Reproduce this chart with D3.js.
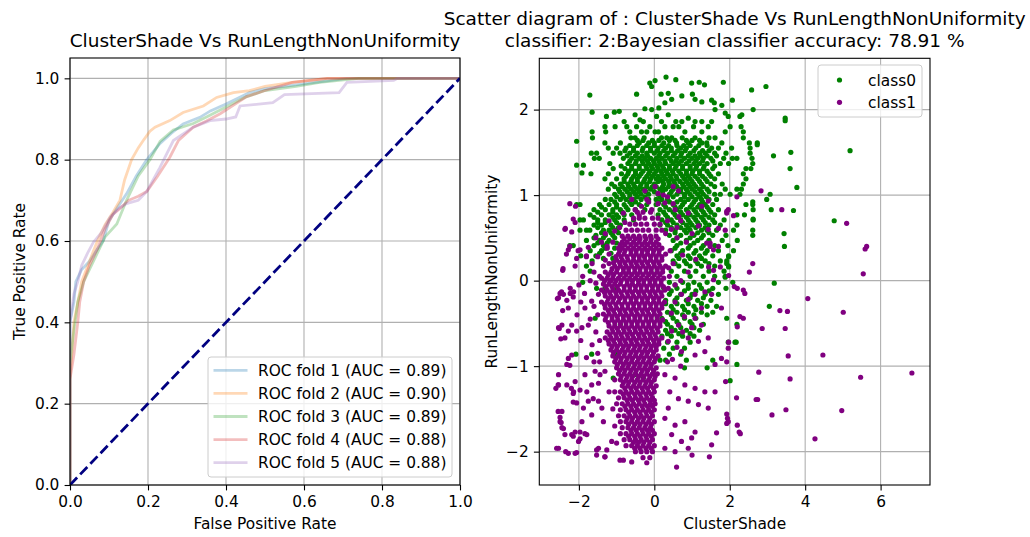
<!DOCTYPE html>
<html><head><meta charset="utf-8">
<script src="https://cdn.jsdelivr.net/npm/d3@7"></script>
<style>body{margin:0;background:#fff}svg{display:block;font-family:"DejaVu Sans",sans-serif}</style>
</head><body><svg id="c" width="1030" height="537"></svg>
<script>
// ---------------- data ----------------
const rocTitle = "ClusterShade Vs RunLengthNonUniformity";
const scatterTitle = ["Scatter diagram of : ClusterShade Vs RunLengthNonUniformity",
  "classifier: 2:Bayesian classifier accuracy: 78.91 %"];
const rocTicks = [0, 0.2, 0.4, 0.6, 0.8, 1.0];
const scatterXTicks = [-2, 0, 2, 4, 6];
const scatterYTicks = [-2, -1, 0, 1, 2];
const foldLabels = ["ROC fold 1 (AUC = 0.89)", "ROC fold 2 (AUC = 0.90)", "ROC fold 3 (AUC = 0.89)",
  "ROC fold 4 (AUC = 0.88)", "ROC fold 5 (AUC = 0.88)"];
const foldColors = ["#1f77b4", "#ff7f0e", "#2ca02c", "#d62728", "#9467bd"];
const classLabels = ["class0", "class1"];
const classColors = ["#008000", "#800080"];
const chanceLine = [[0, 0], [1, 1]];

const fold1 = [[0,0],[0,0.40],[0.01,0.45],[0.015,0.50],[0.03,0.53],[0.05,0.55],[0.07,0.58],[0.085,0.60],[0.10,0.65],[0.12,0.68],[0.145,0.716],[0.17,0.76],[0.197,0.80],[0.231,0.84],[0.26,0.865],[0.29,0.888],[0.333,0.904],[0.36,0.92],[0.40,0.937],[0.46,0.965],[0.50,0.975],[0.55,0.98],[0.63,0.99],[0.71,1.0],[1,1]];
const fold2 = [[0,0],[0,0.26],[0.005,0.33],[0.01,0.40],[0.02,0.45],[0.03,0.50],[0.05,0.55],[0.07,0.60],[0.09,0.64],[0.11,0.67],[0.128,0.70],[0.14,0.75],[0.158,0.80],[0.175,0.829],[0.19,0.85],[0.205,0.87],[0.218,0.88],[0.256,0.896],[0.29,0.916],[0.342,0.932],[0.376,0.953],[0.419,0.965],[0.46,0.97],[0.50,0.98],[0.57,0.99],[0.66,1.0],[1,1]];
const fold3 = [[0,0],[0,0.30],[0.01,0.38],[0.02,0.45],[0.035,0.50],[0.05,0.53],[0.07,0.57],[0.09,0.61],[0.12,0.642],[0.145,0.70],[0.175,0.76],[0.205,0.80],[0.231,0.845],[0.265,0.873],[0.316,0.889],[0.35,0.905],[0.385,0.922],[0.453,0.955],[0.50,0.97],[0.58,0.98],[0.64,0.99],[0.74,1.0],[1,1]];
const fold4 = [[0,0],[0,0.26],[0.01,0.32],[0.02,0.40],[0.025,0.45],[0.035,0.50],[0.05,0.54],[0.07,0.58],[0.09,0.63],[0.11,0.665],[0.128,0.68],[0.15,0.70],[0.175,0.71],[0.197,0.722],[0.225,0.76],[0.256,0.806],[0.278,0.847],[0.316,0.88],[0.35,0.895],[0.385,0.913],[0.453,0.955],[0.50,0.97],[0.57,0.99],[0.66,1.0],[1,1]];
const fold5 = [[0,0],[0,0.40],[0.01,0.47],[0.02,0.50],[0.03,0.54],[0.045,0.57],[0.06,0.597],[0.08,0.62],[0.103,0.659],[0.125,0.68],[0.145,0.692],[0.175,0.70],[0.197,0.722],[0.23,0.78],[0.265,0.847],[0.316,0.88],[0.359,0.896],[0.40,0.90],[0.425,0.905],[0.436,0.932],[0.52,0.94],[0.55,0.96],[0.69,0.965],[0.71,0.99],[0.83,0.995],[0.84,1.0],[1,1]];
const folds = [fold1, fold2, fold3, fold4, fold5];

// class0 (green): rows of [y, [x...]] plus scattered [x, y] points
const class0Rows = [
[1.86,[-0.80,-0.29,0.19,0.57,0.73,1.08,1.26,1.52]],
[1.80,[-1.31,-1.04,-0.73,-0.47,-0.12,0.28,0.50,0.65,1.04,1.43,2.01,2.30]],
[1.74,[-1.65,-1.29,-0.65,-0.34,-0.20,0.02,0.11,0.81,1.26,1.88,2.36]],
[1.67,[-1.64,-0.62,-0.51,-0.27,0.19,0.33,0.46,0.74,1.08,1.45,1.61,2.36]],
[1.64,[-0.45,-0.30,-0.05,0.12,0.40,0.55,0.85,1.0,1.20]],
[1.61,[-1.31,-0.90,-0.40,-0.15,0.0,0.25,0.59,0.90,1.26,1.39,1.79,2.52,2.73]],
[1.58,[-0.65,-0.45,-0.20,0.0,0.20,0.38,0.60,0.78,0.95,1.18,1.40]],
[1.55,[-1.22,-1.0,-0.75,-0.55,-0.30,-0.10,0.10,0.30,0.45,0.70,0.85,1.10,1.52,1.70,2.05,2.54]],
[1.52,[-0.78,-0.55,-0.32,-0.10,0.08,0.25,0.45,0.62,0.82,1.05,1.28,1.45]],
[1.49,[-1.67,-1.53,-1.09,-0.91,-0.65,-0.45,-0.20,0.0,0.15,0.35,0.55,0.72,0.95,1.20,1.35,1.60,1.90,2.54]],
[1.46,[-0.72,-0.50,-0.32,-0.18,0.12,0.30,0.50,0.70,0.90,1.08,1.22,1.40,1.65]],
[1.43,[-1.59,-1.46,-0.82,-0.60,-0.40,-0.25,-0.10,0.05,0.20,0.40,0.60,0.80,1.0,1.15,1.30,1.50,1.84,2.07,2.19,2.59]],
[1.40,[-0.65,-0.48,-0.32,-0.18,-0.02,0.12,0.28,0.45,0.58,0.72,0.92,1.10,1.28,1.55]],
[1.37,[-1.18,-0.70,-0.50,-0.30,-0.15,0.0,0.15,0.30,0.50,0.65,0.85,1.05,1.20,1.40,1.75,1.97,2.61]],
[1.34,[-0.88,-0.60,-0.40,-0.22,-0.08,0.08,0.22,0.40,0.58,0.75,0.95,1.12,1.32,1.60]],
[1.31,[-1.09,-0.78,-0.60,-0.40,-0.20,-0.05,0.10,0.25,0.40,0.55,0.75,0.95,1.10,1.30,1.55,2.43,2.56]],
[1.28,[-0.68,-0.50,-0.30,-0.12,0.05,0.18,0.32,0.48,0.65,0.85,1.02,1.20,1.40]],
[1.25,[-1.68,-1.22,-0.87,-0.70,-0.50,-0.35,-0.15,0.0,0.20,0.35,0.50,0.70,0.85,1.0,1.20,1.45,1.70,2.36]],
[1.22,[-0.75,-0.55,-0.40,-0.20,-0.05,0.10,0.25,0.42,0.58,0.75,0.90,1.08,1.28,1.50]],
[1.19,[-1.31,-1.0,-0.80,-0.60,-0.45,-0.25,-0.10,0.05,0.15,0.30,0.45,0.60,0.80,0.95,1.15,1.35,1.60,2.43]],
[1.16,[-0.80,-0.62,-0.45,-0.28,-0.12,0.10,0.22,0.38,0.52,0.68,0.85,1.0,1.20,1.40]],
[1.13,[-1.13,-0.90,-0.70,-0.55,-0.35,-0.20,0.0,0.25,0.40,0.55,0.75,0.90,1.05,1.25,1.50,1.80,2.36]],
[1.10,[-1.05,-0.85,-0.68,-0.52,-0.38,-0.20,-0.05,0.05,0.22,0.38,0.60,0.78,0.95,1.10,1.30,1.60]],
[1.07,[-1.22,-0.95,-0.78,-0.62,-0.45,-0.30,-0.10,0.15,0.30,0.50,0.70,0.85,1.0,1.20,1.40,1.88,2.19,2.31]],
[1.04,[-0.92,-0.72,-0.55,-0.40,-0.22,0.0,0.22,0.45,0.70,0.88,1.08,1.25,1.45]],
[1.01,[-1.05,-0.85,-0.65,-0.50,-0.35,-0.15,0.10,0.40,0.60,0.80,0.95,1.15,1.30,1.60,1.75,2.01,2.27]],
[0.98,[-1.0,-0.82,-0.65,-0.45,-0.25,0.15,0.50,0.80,1.0,1.20,1.38]],
[0.95,[-1.30,-1.15,-0.90,-0.75,-0.55,-0.35,-0.15,0.05,0.20,0.35,0.70,0.90,1.10,1.25,1.45,1.65,2.98]],
[0.92,[-1.05,-0.65,-0.50,0.12,0.40,0.60,0.80,1.05,1.28]],
[0.89,[-2.06,-1.97,-1.45,-1.20,-1.0,-0.80,-0.60,-0.40,-0.20,0.05,0.25,0.50,0.75,1.0,1.20,1.35,1.55,2.43,2.61]],
[0.86,[-1.40,-1.0,-0.75,0.30,0.55,0.70,0.95,1.15,1.40]],
[0.83,[-1.60,-1.30,-1.10,-0.90,-0.70,-0.50,-0.25,0.15,0.40,0.60,0.85,1.05,1.25,1.45,1.70,2.62,3.10]],
[0.80,[-1.50,-1.10,-0.85,0.25,0.50,0.70,0.90,1.10,1.30,1.50]],
[0.77,[-1.70,-1.40,-1.20,-1.0,-0.80,-0.60,0.10,0.30,0.55,0.75,0.95,1.15,1.35,1.60,2.19,2.39]],
[0.74,[-1.60,-1.10,-0.95,0.35,0.60,0.85,1.05,1.25,1.45]],
[0.71,[-1.97,-1.88,-1.50,-1.30,-1.05,-0.80,-0.55,0.20,0.45,0.70,0.90,1.10,1.30,1.55,1.85,2.62]],
[0.68,[-1.50,-1.30,-1.0,0.30,0.50,0.75,0.95,1.15,1.35,1.60]],
[0.65,[-1.60,-1.40,-1.15,-0.90,0.15,0.35,0.60,0.85,1.0,1.20,1.45,1.75,2.19]],
[0.62,[-1.50,-1.10,-0.95,0.45,0.70,0.90,1.10,1.35]],
[0.59,[-1.97,-1.80,-1.71,-1.35,-1.20,-1.0,0.30,0.55,0.80,0.95,1.25,1.40,1.65,2.10,2.61]],
[0.56,[-1.40,-1.15,-0.95,0.55,0.85,1.15,1.45]],
[0.53,[-1.55,-1.30,-1.10,0.40,0.70,1.05,1.30,1.55,1.90]],
[0.50,[-1.60,-1.35,-1.05,0.60,0.95,1.25]],
[0.47,[-1.80,-1.45,-1.20,0.50,0.85,1.15,1.45,1.80,2.20]],
[0.44,[-1.50,-1.25,-1.0,0.70,1.05,1.40]],
[0.41,[-2.24,-2.15,-1.60,-1.35,0.60,0.95,1.30,1.60,1.95]],
[0.38,[-1.30,-1.05,0.55,0.90,1.25]],
[0.35,[-1.70,-1.40,0.45,0.75,1.10,1.40,1.70,2.10]],
[0.32,[-1.45,-1.15,0.70,1.05,1.35]],
[0.29,[-1.95,-1.55,0.60,0.90,1.20,1.55,1.97]],
[0.26,[-1.35,-1.10,0.65,0.95,1.25]],
[0.23,[-1.65,0.50,0.80,1.10,1.35,1.75,1.92]],
[0.20,[0.55,0.85,1.15,1.45]],
[0.17,[-1.80,0.65,0.95,1.25,1.60,1.97]],
[0.11,[-1.70,0.45,0.80,1.10,1.45,1.85]],
[0.05,[0.60,0.95,1.30,1.60,1.88]],
[-0.02,[-1.90,0.40,0.75,1.05,1.40,1.70,2.08]],
[-0.05,[0.55,0.90,1.20]],
[-0.09,[-1.53,-1.31,-1.0,0.25,0.60,0.90,1.25,1.55,1.90]],
[-0.12,[0.45,0.80,1.10,1.45]],
[-0.16,[0.40,0.70,1.0,1.35,1.70]],
[-0.20,[0.60,0.95,1.30]],
[-0.23,[0.30,0.55,0.85,1.15,1.50]],
[-0.27,[0.30,0.60,0.90,1.25]],
[-0.30,[0.45,0.75,1.05,1.40,1.65]],
[-0.34,[0.50,0.80,1.10]],
[-0.37,[0.35,0.60,0.90,1.25,1.55]],
[-0.40,[0.45,0.75,1.05,1.40]],
[-0.44,[-1.57,0.20,0.50,0.80,1.10,1.92]],
[-0.48,[0.30,0.60,0.95]],
[-0.51,[-0.90,0.35,0.65,1.0,1.30,2.19]],
[-0.55,[0.45,0.70,1.05]],
[-0.58,[0.30,0.55,0.85,1.20]],
[-0.62,[0.35,0.65,0.95]],
[-0.65,[0.20,0.45,0.75,1.05]],
[-0.72,[0.35,0.60,0.95,1.96,2.14,2.17]],
[-0.79,[0.25,0.50,0.80]],
[-0.86,[-2.08,-1.66,-1.0,0.40,0.70]],
[-0.93,[0.15,0.30,0.85,1.55]],
[-0.98,[2.19]],
[-1.02,[0.80,1.40]],
[-1.10,[-0.51]],
[-1.14,[-1.09,-0.29]],
[-1.17,[2.01]]
];
const class0Points = [[-1.71,2.17],[-0.47,2.18],[-0.12,2.31],[0.02,2.34],[-0.07,2.27],[0.31,2.38],[0.57,2.35],[0.99,2.31],[1.19,2.32],[1.33,2.29],[1.83,2.32],[0.18,2.18],[0.37,2.19],[0.46,2.12],[0.73,2.16],[1.01,2.18],[1.08,2.12],[1.52,2.11],[1.59,2.08],[1.26,2.09],[0.28,2.08],[0.12,2.02],[-0.25,2.01],[-0.07,2.0],[1.61,2.0],[1.88,1.96],[1.79,2.05],[1.96,1.92],[2.58,2.23],[2.96,2.27],[2.62,2.0],[2.07,2.11],[2.32,1.94],[2.27,1.92],[-1.65,1.97],[-1.27,1.92],[-1.06,1.97],[-0.93,1.98],[-0.51,1.94],[0.06,1.92],[0.37,1.94],[0.90,1.90],[-0.38,1.88],[3.47,1.90],[3.47,1.87],[3.62,1.50],[3.60,1.31],[3.16,1.46],[5.19,1.52],[4.77,0.70],[3.78,1.09],[3.69,0.82],[3.07,1.01],[3.44,0.55],[3.45,0.40],[3.18,-0.03],[3.05,-0.30],[-2.06,1.63],[-2.06,1.35],[-1.88,1.35],[-1.92,1.26],[2.73,1.59],[2.61,0.92],[2.62,0.72],[2.61,0.53],[1.97,0.28],[1.97,0.16],[1.92,0.20],[1.88,0.04]];

// class1 (purple): rows of [y, [x...]] plus scattered [x, y] points
const class1Rows = [
[0.80,[-0.45,-0.30,-0.10]],
[0.73,[-0.55,-0.40,-0.25,-0.05,0.10]],
[0.66,[-0.65,-0.50,-0.35,-0.20,0.0,0.15]],
[0.59,[-0.75,-0.60,-0.45,-0.30,-0.15,0.05,0.20]],
[0.52,[-0.85,-0.70,-0.55,-0.40,-0.25,-0.10,0.05]],
[0.49,[-0.80,-0.65,-0.50,-0.38,-0.22,-0.08,0.10]],
[0.45,[-1.10,-0.85,-0.72,-0.55,-0.40,-0.25,-0.10,0.05]],
[0.42,[-0.90,-0.78,-0.62,-0.48,-0.32,-0.18,-0.02,0.12]],
[0.38,[-1.25,-0.95,-0.85,-0.70,-0.55,-0.40,-0.25,-0.10,0.05,0.20]],
[0.35,[-0.92,-0.78,-0.62,-0.48,-0.32,-0.18,-0.02,0.13]],
[0.31,[-1.20,-0.95,-0.80,-0.62,-0.48,-0.33,-0.18,-0.03,0.12,0.30]],
[0.28,[-1.02,-0.88,-0.72,-0.55,-0.40,-0.26,-0.10,0.05,0.20]],
[0.24,[-1.30,-1.0,-0.85,-0.70,-0.55,-0.40,-0.25,-0.10,0.05,0.20]],
[0.21,[-1.08,-0.92,-0.78,-0.62,-0.48,-0.33,-0.18,-0.02,0.12]],
[0.17,[-1.35,-1.05,-0.90,-0.75,-0.60,-0.45,-0.30,-0.15,0.0,0.15,0.30]],
[0.14,[-1.12,-0.98,-0.82,-0.68,-0.52,-0.38,-0.22,-0.08,0.08,0.22]],
[0.10,[-1.30,-1.15,-1.0,-0.82,-0.68,-0.52,-0.38,-0.22,-0.08,0.08,0.22]],
[0.07,[-1.22,-1.08,-0.90,-0.75,-0.60,-0.45,-0.30,-0.15,0.0,0.15]],
[0.03,[-1.40,-1.25,-1.10,-0.95,-0.80,-0.65,-0.50,-0.35,-0.20,-0.05,0.10,0.25]],
[0.00,[-1.32,-1.18,-1.02,-0.88,-0.72,-0.58,-0.42,-0.28,-0.12,0.02,0.18]],
[-0.04,[-1.35,-1.20,-1.05,-0.90,-0.72,-0.58,-0.42,-0.28,-0.12,0.02,0.18]],
[-0.07,[-1.28,-1.12,-0.98,-0.80,-0.65,-0.50,-0.35,-0.20,-0.05,0.10,0.24]],
[-0.11,[-1.40,-1.25,-1.10,-0.95,-0.80,-0.65,-0.50,-0.35,-0.20,-0.05,0.10,0.28]],
[-0.14,[-1.32,-1.18,-1.02,-0.88,-0.72,-0.58,-0.42,-0.28,-0.12,0.02,0.18]],
[-0.18,[-1.30,-1.15,-1.0,-0.85,-0.70,-0.55,-0.40,-0.25,-0.10,0.05,0.20]],
[-0.21,[-1.22,-1.08,-0.92,-0.78,-0.62,-0.48,-0.32,-0.18,-0.02,0.12]],
[-0.25,[-1.40,-1.25,-1.10,-0.95,-0.78,-0.62,-0.48,-0.32,-0.18,-0.02,0.12,0.27]],
[-0.28,[-1.32,-1.18,-1.02,-0.86,-0.70,-0.55,-0.40,-0.25,-0.10,0.05,0.20]],
[-0.32,[-1.30,-1.15,-1.0,-0.85,-0.70,-0.55,-0.40,-0.25,-0.10,0.05,0.20]],
[-0.35,[-1.22,-1.08,-0.92,-0.78,-0.62,-0.48,-0.32,-0.18,-0.02,0.12]],
[-0.39,[-1.35,-1.20,-1.05,-0.90,-0.75,-0.60,-0.45,-0.30,-0.15,0.0,0.15]],
[-0.42,[-1.28,-1.12,-0.98,-0.82,-0.68,-0.52,-0.38,-0.22,-0.08,0.08]],
[-0.46,[-1.30,-1.12,-0.97,-0.82,-0.67,-0.52,-0.38,-0.22,-0.08,0.08,0.22]],
[-0.49,[-1.22,-1.05,-0.90,-0.75,-0.60,-0.45,-0.30,-0.15,0.0,0.15]],
[-0.53,[-1.20,-1.05,-0.90,-0.75,-0.60,-0.45,-0.30,-0.15,0.0,0.15]],
[-0.56,[-1.12,-0.98,-0.82,-0.68,-0.52,-0.38,-0.22,-0.08,0.08]],
[-0.60,[-1.25,-1.10,-0.95,-0.80,-0.65,-0.50,-0.35,-0.20,-0.05,0.10]],
[-0.63,[-1.18,-1.02,-0.88,-0.72,-0.58,-0.42,-0.28,-0.12,0.02]],
[-0.67,[-1.30,-1.15,-1.0,-0.85,-0.70,-0.55,-0.40,-0.25,-0.10,0.05,0.20]],
[-0.70,[-1.22,-1.08,-0.92,-0.78,-0.62,-0.48,-0.32,-0.18,-0.02,0.12]],
[-0.74,[-1.20,-1.05,-0.90,-0.75,-0.60,-0.45,-0.30,-0.15,0.0,0.12]],
[-0.77,[-1.12,-0.98,-0.82,-0.68,-0.52,-0.38,-0.22,-0.08,0.05]],
[-0.81,[-1.15,-1.0,-0.85,-0.70,-0.55,-0.40,-0.25,-0.10,0.05]],
[-0.84,[-1.08,-0.92,-0.78,-0.62,-0.48,-0.32,-0.18,-0.02]],
[-0.88,[-1.10,-0.95,-0.80,-0.65,-0.50,-0.35,-0.20,-0.05,0.10]],
[-0.91,[-1.02,-0.88,-0.72,-0.58,-0.42,-0.28,-0.12,0.03]],
[-0.95,[-1.05,-0.90,-0.75,-0.60,-0.45,-0.30,-0.15,0.0]],
[-0.98,[-0.98,-0.82,-0.68,-0.52,-0.38,-0.22,-0.08]],
[-1.02,[-1.0,-0.85,-0.70,-0.55,-0.40,-0.25,-0.10,0.05]],
[-1.05,[-0.92,-0.78,-0.62,-0.48,-0.32,-0.18,-0.02]],
[-1.09,[-0.95,-0.80,-0.65,-0.50,-0.35,-0.20,-0.05,0.08]],
[-1.12,[-0.88,-0.72,-0.58,-0.42,-0.28,-0.12,0.02]],
[-1.16,[-1.05,-0.90,-0.75,-0.60,-0.45,-0.30,-0.15,0.0]],
[-1.19,[-0.82,-0.68,-0.52,-0.38,-0.22,-0.08]],
[-1.23,[-0.85,-0.70,-0.55,-0.40,-0.25,-0.10,0.05]],
[-1.26,[-0.78,-0.62,-0.48,-0.32,-0.18,-0.02]],
[-1.30,[-1.05,-0.90,-0.75,-0.60,-0.45,-0.30,-0.15,0.0]],
[-1.33,[-0.82,-0.68,-0.52,-0.38,-0.22,-0.08]],
[-1.37,[-0.95,-0.80,-0.65,-0.50,-0.35,-0.20,-0.05]],
[-1.40,[-0.72,-0.58,-0.42,-0.28,-0.12,0.0]],
[-1.44,[-1.0,-0.85,-0.70,-0.55,-0.40,-0.25,-0.10,0.02]],
[-1.47,[-0.78,-0.62,-0.48,-0.32,-0.18,-0.05]],
[-1.51,[-0.90,-0.75,-0.60,-0.45,-0.30,-0.15,0.0]],
[-1.54,[-0.68,-0.52,-0.38,-0.22,-0.08]],
[-1.58,[-0.95,-0.80,-0.65,-0.50,-0.35,-0.20,-0.05]],
[-1.61,[-0.72,-0.58,-0.42,-0.28,-0.12]],
[-1.65,[-0.90,-0.75,-0.60,-0.45,-0.30,-0.15,0.0]],
[-1.68,[-0.68,-0.52,-0.38,-0.22,-0.08]],
[-1.72,[-0.85,-0.70,-0.55,-0.40,-0.25,-0.10]],
[-1.75,[-0.62,-0.48,-0.32,-0.18,-0.05]],
[-1.79,[-0.90,-0.75,-0.60,-0.45,-0.30,-0.15,0.0]],
[-1.82,[-0.68,-0.52,-0.38,-0.22,-0.08]],
[-1.86,[-0.80,-0.65,-0.50,-0.35,-0.20,-0.05]],
[-1.89,[-0.55,-0.42,-0.28,-0.12]],
[-1.93,[-0.75,-0.60,-0.45,-0.30,-0.15,0.0]],
[-1.96,[-0.52,-0.38,-0.22,-0.08]],
[-2.00,[-0.50,-0.35,-0.20,-0.05]],
[-2.07,[-0.30,-0.12]],
[-2.13,[-0.20]]
];
const class1Points = [[-2.54,-0.20],[-2.23,-0.09],[-2.14,-0.13],[-2.41,-0.16],[-2.28,-0.32],[-2.45,-0.52],[-2.54,-0.55],[-2.19,-0.52],[-2.28,-0.59],[-2.37,-0.67],[-2.06,-0.59],[-1.92,-0.55],[-1.75,-0.52],[-1.84,-0.32],[-1.66,-0.24],[-1.48,-0.16],[-2.19,-0.87],[-2.32,-0.98],[-2.54,-1.10],[-2.54,-1.22],[-2.32,-1.22],[-2.10,-1.18],[-2.14,-1.30],[-1.97,-1.28],[-1.79,-1.30],[-1.66,-1.22],[-1.48,-1.20],[-1.62,-1.38],[-1.75,-1.41],[-1.88,-1.49],[-2.45,-1.53],[-2.50,-1.65],[-2.41,-1.73],[-2.37,-1.80],[-2.19,-1.80],[-2.10,-1.77],[-2.01,-1.88],[-1.79,-1.80],[-2.54,-1.96],[-2.28,-2.02],[-2.10,-2.02],[-1.48,-1.96],[-1.31,-2.06],[-1.13,-1.88],[-1.35,-1.65],[-1.39,-1.49],[-1.48,-1.41],[-1.66,-1.57],[-1.92,-1.65],[-1.44,-1.10],[-1.31,-1.06],[-1.57,-1.06],[-1.84,-1.10],
[-2.59,-1.96],[-2.35,-2.0],[-2.06,-2.01],[-2.55,-1.53],[-2.5,-1.6],[-2.47,-1.66],[-2.45,-1.72],[-2.61,-1.26],[-2.55,-1.22],[-2.52,-0.56],[-2.48,-0.68],[-2.43,-0.35],[-2.57,-0.21],[-2.5,-0.15],[-2.46,-0.13],[-2.32,-0.23],[-2.23,-0.15],[-2.15,-0.19],[-2.24,-0.99],[-2.28,-0.91],[-2.2,-1.26],[-2.15,-1.32],[-2.15,-1.42],[-2.06,-1.43],[-1.97,-1.77],[-1.84,-1.79],[-1.97,-1.85],[-2.15,-1.82],[-1.53,-1.98],[-1.53,-2.04],[-1.31,-2.06],[-1.26,-1.98],[-0.91,-2.10],[-0.82,-2.10],[-0.60,-2.12],[-1.1,-1.5],[-1.05,-1.7],[-1.2,-1.3],[-1.0,-1.9],
[-2.36,0.61],[-2.19,0.57],[-2.24,0.40],[-2.28,0.36],[-2.42,0.14],[-2.43,0.12],[-2.06,0.26],[-1.97,0.36],[-1.80,0.28],[-2.1,0.17],[-2.24,0.9],[-2.09,0.87],[-2.15,0.72],[-2.1,0.68],[-2.37,0.6],[-2.33,0.31],[-2.02,0.35],[-1.75,0.39],[-1.8,0.29],[-1.65,0.2],[-1.5,0.28],[-1.6,0.1],[-1.45,0.05],[-1.55,-0.03],[-1.7,0.0],[-1.9,0.05],[-2.0,-0.05],[-1.85,-0.15],[-1.6,-0.3],[-1.5,-0.4],[-1.7,-0.45],[-1.55,-0.6],[-1.45,-0.7],[-1.65,-0.75],[-1.5,-0.85],[-1.8,-0.9],[-1.6,-0.95],[-1.45,-0.95],[-1.95,-0.7],[-2.05,-0.4],[-1.95,-0.25],[-1.4,0.45],[-1.55,0.5],[-1.3,0.55],[-1.2,0.7],
[0.37,-0.09],[0.55,-0.05],[0.72,-0.16],[0.90,-0.22],[1.08,-0.16],[1.34,-0.13],[1.52,-0.16],[1.78,-0.32],[1.25,-0.32],[1.08,-0.44],[0.99,-0.55],[1.25,-0.52],[1.43,-0.67],[1.17,-0.71],[0.90,-0.67],[0.64,-0.52],[0.46,-0.59],[0.37,-0.71],[0.72,-0.83],[1.08,-0.87],[1.34,-0.83],[1.61,-0.98],[1.78,-0.91],[1.96,-0.79],[0.28,-1.10],[0.55,-1.14],[0.81,-1.22],[1.08,-1.26],[1.34,-1.30],[1.61,-1.30],[0.41,-1.30],[0.64,-1.38],[0.90,-1.41],[1.17,-1.45],[1.43,-1.49],[0.37,-1.49],[0.28,-1.61],[0.55,-1.69],[0.81,-1.65],[1.08,-1.77],[0.46,-1.80],[0.72,-1.88],[0.99,-1.84],[1.52,-1.92],[0.90,-1.96],[0.55,-2.0],[0.28,-1.96],[0.59,-2.18],
[2.18,-1.37],[2.2,-1.69],[2.25,-1.77],[2.28,-1.79],[1.96,-1.65],[1.92,-1.67],[1.94,-1.61],[2.27,-0.42],[2.36,-0.44],[2.2,-0.54],[2.36,-0.11],[2.4,-0.15],[2.12,-0.07],[2.2,-0.09],[1.89,-1.18],[1.97,-0.72],[1.92,-0.95],[1.46,-2.06],[1.0,-2.04],[1.65,-1.78],[1.92,-1.56],[4.07,-0.21],[5.01,-0.37],[4.47,-0.87],[5.47,-1.13],[6.83,-1.08],[4.97,-1.52],[4.26,-1.85],[3.49,-1.51],[3.12,-1.57],[2.74,-1.39],[2.70,-1.39],[2.77,-1.07],[3.55,-0.88],[3.60,-1.15],[3.47,-0.56],[2.86,-0.56],[3.53,-0.36],[3.33,-0.35],[5.10,0.67],[5.63,0.40],[5.59,0.37],[5.54,0.08],[2.83,1.05],[3.38,0.83],[2.19,0.98],[1.92,0.81],[2.1,0.76],[1.88,0.59],[1.7,0.61],[1.48,0.44],[1.57,0.36],[1.7,0.40],[1.44,0.16],[1.57,0.12],[1.75,0.16],[1.57,0.01],[2.52,0.10],[2.61,0.20],[1.97,0.06],
[0.02,1.1],[0.5,1.1],[0.24,1.0],[0.64,1.05],[-0.34,0.87],[-0.51,0.83],[-0.07,0.83],[0.28,0.91],[0.55,0.83],[0.9,0.79],[1.26,0.87],[1.43,0.93],[-0.82,0.79],[-0.78,0.68],[1.96,0.83],[1.92,0.79],[1.17,0.64],[1.43,0.6],[1.39,0.44],[1.48,0.4],[0.45,0.6],[0.6,0.5],[0.75,0.3],[0.5,0.2],[0.9,0.1],[0.4,0.05],[0.7,0.0],[1.1,0.25],[0.85,0.45],[1.0,0.55],[0.35,0.7],[0.65,0.75],[-0.2,0.95],[0.1,0.9],[-0.4,0.76],[0.3,0.55],[0.42,0.35],[0.38,0.15],[-0.92,0.62],[-1.05,0.58],
[-0.25,1.05],[0.1,1.02],[0.35,0.98],[-0.6,0.95],[0.5,0.9],[-0.15,0.92],[0.7,0.7],[0.6,0.62],[-1.2,0.2],[-1.25,0.4],[-1.15,0.0],[0.55,-0.25],[0.45,-0.38],[0.6,-0.78],[0.48,-0.92],[0.7,-1.0],[0.35,-0.95],[0.8,-0.42],[0.75,-0.6]];

// ---------------- drawing ----------------
const svg = d3.select("#c");
const FS = 15.4, TFS = 18.5, TICK = 5.4;
const gridColor = "#b0b0b0";

function expandRows(rows) { return rows.flatMap(([y, xs]) => xs.map(x => [x, y])); }

function drawGrid(g, x, y, xTicks, yTicks) {
  const [x0, x1] = x.range(), [y0, y1] = y.range();
  g.append("g").selectAll("line").data(xTicks).join("line")
    .attr("x1", d => x(d)).attr("x2", d => x(d)).attr("y1", y0).attr("y2", y1)
    .attr("stroke", gridColor).attr("stroke-width", 1.1);
  g.append("g").selectAll("line").data(yTicks).join("line")
    .attr("y1", d => y(d)).attr("y2", d => y(d)).attr("x1", x0).attr("x2", x1)
    .attr("stroke", gridColor).attr("stroke-width", 1.1);
}
function finishAxes(g, x, y, xTicks, yTicks, fmtX, fmtY) {
  const [x0, x1] = x.range(), [y0, y1] = y.range();
  const ax = g.append("g").attr("transform", `translate(0,${y0})`)
    .call(d3.axisBottom(x).tickValues(xTicks).tickFormat(fmtX).tickSize(TICK).tickPadding(5.2));
  const ay = g.append("g").attr("transform", `translate(${x0},0)`)
    .call(d3.axisLeft(y).tickValues(yTicks).tickFormat(fmtY).tickSize(TICK).tickPadding(5.2));
  [ax, ay].forEach(a => {
    a.select(".domain").remove();
    a.selectAll("line").attr("stroke", "#000").attr("stroke-width", 1.1);
    a.selectAll("text").attr("font-size", FS).attr("fill", "#000").attr("font-family", "DejaVu Sans");
  });
  g.append("rect").attr("x", x0).attr("y", y1).attr("width", x1 - x0).attr("height", y0 - y1)
    .attr("fill", "none").attr("stroke", "#000").attr("stroke-width", 1.1);
}

// ---- left: ROC ----
const xL = d3.scaleLinear().domain([0, 1]).range([70, 460]);
const yL = d3.scaleLinear().domain([0, 1.05]).range([485, 58]);
const gL = svg.append("g");
drawGrid(gL, xL, yL, rocTicks, rocTicks);
svg.append("clipPath").attr("id", "clipL").append("rect")
  .attr("x", 70).attr("y", 58).attr("width", 390).attr("height", 427);
const line = d3.line().x(d => xL(d[0])).y(d => yL(d[1]));
const gLines = gL.append("g").attr("clip-path", "url(#clipL)");
folds.forEach((f, i) => {
  gLines.append("path").attr("d", line(f)).attr("fill", "none")
    .attr("stroke", foldColors[i]).attr("stroke-opacity", 0.3).attr("stroke-width", 2.78);
});
gLines.append("path").attr("d", line(chanceLine)).attr("fill", "none")
  .attr("stroke", "#000080").attr("stroke-width", 2.78).attr("stroke-dasharray", "10.3,4.4");
finishAxes(gL, xL, yL, rocTicks, rocTicks, d3.format(".1f"), d3.format(".1f"));
gL.append("text").attr("x", 265).attr("y", 47).attr("text-anchor", "middle")
  .attr("font-size", TFS).text(rocTitle);
gL.append("text").attr("x", 265).attr("y", 529).attr("text-anchor", "middle")
  .attr("font-size", FS).text("False Positive Rate");
gL.append("text").attr("transform", "translate(25,271.5) rotate(-90)").attr("text-anchor", "middle")
  .attr("font-size", FS).text("True Positive Rate");
const lg = gL.append("g");
lg.append("rect").attr("x", 208).attr("y", 357).attr("width", 244).attr("height", 120).attr("rx", 3)
  .attr("fill", "#fff").attr("fill-opacity", 0.8).attr("stroke", "#cccccc").attr("stroke-width", 1);
foldLabels.forEach((t, i) => {
  const cy = 370.3 + i * 23.1;
  lg.append("line").attr("x1", 213.5).attr("x2", 247.5).attr("y1", cy).attr("y2", cy)
    .attr("stroke", foldColors[i]).attr("stroke-opacity", 0.3).attr("stroke-width", 2.78);
  lg.append("text").attr("x", 258).attr("y", cy + 5.5).attr("font-size", FS).text(t);
});

// ---- right: scatter ----
const xR = d3.scaleLinear().domain([-3.05, 7.31]).range([539.3, 930]);
const yR = d3.scaleLinear().domain([-2.39, 2.60]).range([485, 58.3]);
const gR = svg.append("g");
drawGrid(gR, xR, yR, scatterXTicks, scatterYTicks);
const pts0 = expandRows(class0Rows).concat(class0Points);
const pts1 = expandRows(class1Rows).concat(class1Points);
[pts0, pts1].forEach((pts, i) => {
  gR.append("g").selectAll("circle").data(pts).join("circle")
    .attr("cx", d => xR(d[0])).attr("cy", d => yR(d[1])).attr("r", 2.6)
    .attr("fill", classColors[i]);
});
finishAxes(gR, xR, yR, scatterXTicks, scatterYTicks, d3.format("d"), d3.format("d"));
scatterTitle.forEach((t, i) => {
  gR.append("text").attr("x", 734.7).attr("y", 25 + i * 22).attr("text-anchor", "middle")
    .attr("font-size", TFS).text(t);
});
gR.append("text").attr("x", 734.7).attr("y", 529).attr("text-anchor", "middle")
  .attr("font-size", FS).text("ClusterShade");
gR.append("text").attr("transform", "translate(497,271.5) rotate(-90)").attr("text-anchor", "middle")
  .attr("font-size", FS).text("RunLengthNonUniformity");
const lg2 = gR.append("g");
lg2.append("rect").attr("x", 818).attr("y", 65).attr("width", 104).attr("height", 52).attr("rx", 3)
  .attr("fill", "#fff").attr("fill-opacity", 0.8).attr("stroke", "#cccccc").attr("stroke-width", 1);
classLabels.forEach((t, i) => {
  const cy = 80 + i * 22.3;
  lg2.append("circle").attr("cx", 839.5).attr("cy", cy).attr("r", 2.6).attr("fill", classColors[i]);
  lg2.append("text").attr("x", 868).attr("y", cy + 5.5).attr("font-size", FS).text(t);
});
</script></body></html>
